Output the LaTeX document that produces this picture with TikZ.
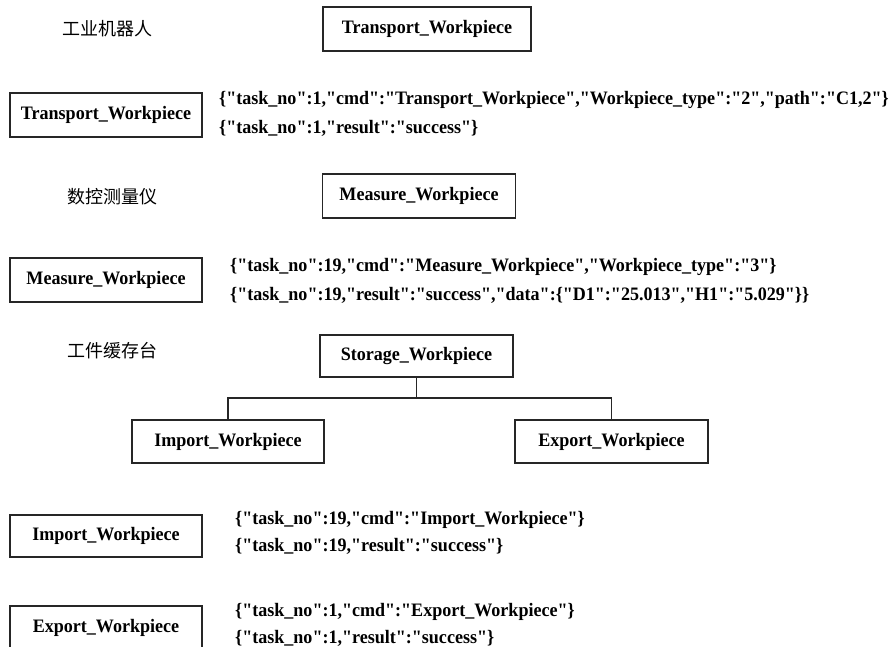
\documentclass[tikz,border=0pt]{standalone}
\usepackage{fontspec}
\setmainfont{Liberation Serif}[FakeStretch=0.95, Ligatures=TeXOff]
\newfontfamily\cjk{Noto Sans CJK SC}
\begin{document}
\begin{tikzpicture}[x=1pt,y=-1pt,
  box/.style={draw=black!85, line width=1.2pt, minimum height=44pt,
    minimum width=192pt, inner sep=0pt, font=\bfseries\fontsize{19}{22}\selectfont},
  json/.style={anchor=west, inner sep=0pt, font=\bfseries\fontsize{19}{22}\selectfont},
  cnlabel/.style={font=\cjk\fontsize{18}{20}\selectfont},
  link/.style={draw=black!85, line width=1.2pt}]
\useasboundingbox (0,0) rectangle (896,647);
\clip (0,0) rectangle (896,647);

% industrial robot
\node[cnlabel] (robot) at (107,29) {工业机器人};
\node[box, minimum width=208pt] (trTop) at (427,29) {Transport\_Workpiece};
\node[box] (trCmd) at (106,115) {Transport\_Workpiece};
\node[json] (trReq) at (219,100) {\{"task\_no":1,"cmd":"Transport\_Workpiece","Workpiece\_type":"2","path":"C1,2"\}};
\node[json] (trRes) at (219,128) {\{"task\_no":1,"result":"success"\}};

% measuring instrument
\node[cnlabel] (meter) at (112,197) {数控测量仪};
\node[box, minimum width=193pt] (meTop) at (419,196) {Measure\_Workpiece};
\node[box] (meCmd) at (106,280) {Measure\_Workpiece};
\node[json] (meReq) at (230,267) {\{"task\_no":19,"cmd":"Measure\_Workpiece","Workpiece\_type":"3"\}};
\node[json] (meRes) at (230,295) {\{"task\_no":19,"result":"success","data":\{"D1":"25.013","H1":"5.029"\}\}};

% workpiece buffer
\node[cnlabel] (buffer) at (112,351) {工件缓存台};
\node[box, minimum width=193pt, minimum height=42pt] (st) at (416.5,356) {Storage\_Workpiece};
\node[box, minimum height=43pt] (im) at (228,441.5) {Import\_Workpiece};
\node[box, minimum width=193pt, minimum height=43pt] (ex) at (611.5,441.5) {Export\_Workpiece};
\coordinate (fork) at (416.5,398);
\draw[link] (st.south) -- (fork);
\draw[link] (im.north) |- (fork) -| (ex.north);

\node[box, minimum height=42pt] (imCmd) at (106,536) {Import\_Workpiece};
\node[json] (imReq) at (235,520) {\{"task\_no":19,"cmd":"Import\_Workpiece"\}};
\node[json] (imRes) at (235,546) {\{"task\_no":19,"result":"success"\}};

\node[box] (exCmd) at (106,628) {Export\_Workpiece};
\node[json] (exReq) at (235,612) {\{"task\_no":1,"cmd":"Export\_Workpiece"\}};
\node[json] (exRes) at (235,638) {\{"task\_no":1,"result":"success"\}};
\end{tikzpicture}
\end{document}
